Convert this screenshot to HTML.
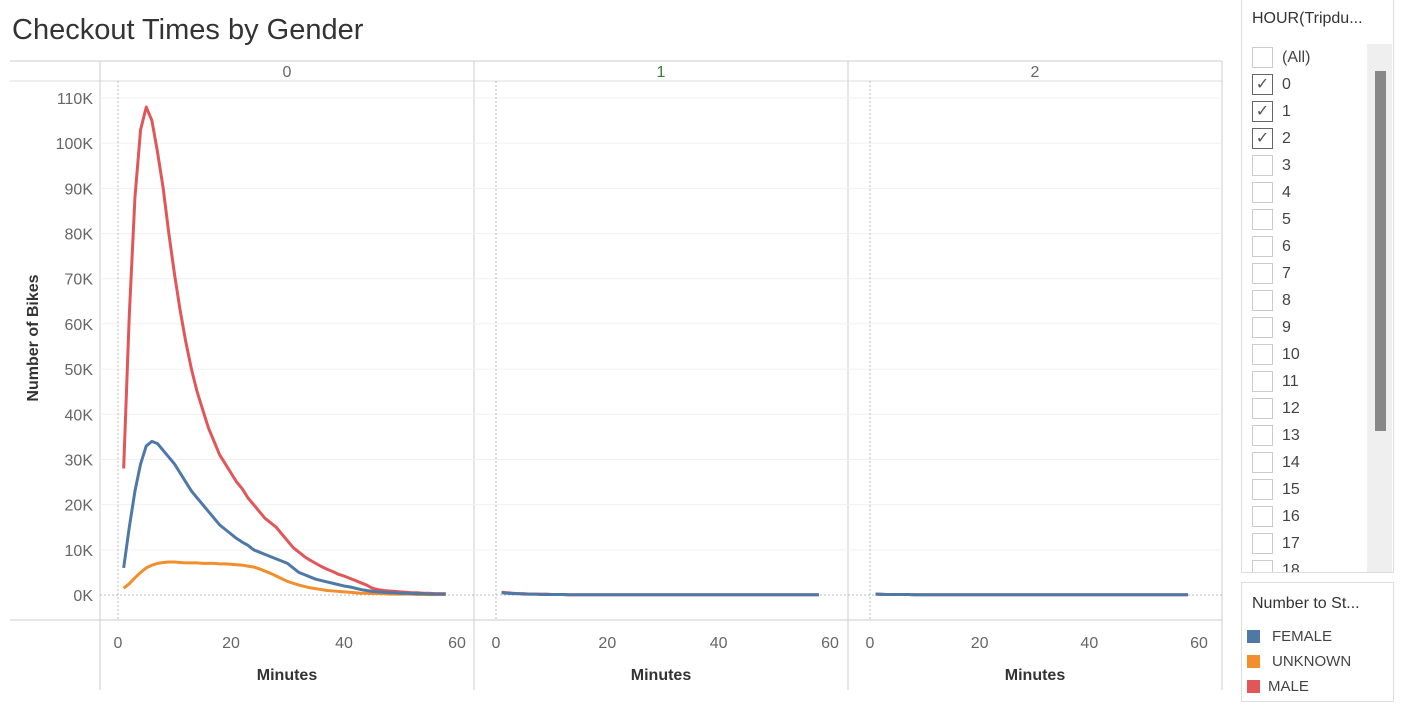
<!DOCTYPE html>
<html><head><meta charset="utf-8"><style>
body{margin:0;width:1401px;height:707px;background:#fff;font-family:"Liberation Sans",sans-serif;overflow:hidden;position:relative}
.t{position:absolute;white-space:nowrap}
</style></head><body>
<div class="t" style="left:12px;top:14px;font-size:29px;color:#333;font-weight:300">Checkout Times by Gender</div>
<svg id="c" width="1230" height="707" style="position:absolute;left:0;top:0"></svg>

<div style="position:absolute;left:1241px;top:0;width:151px;height:572px;border:1px solid #ddd;border-top:none;background:#fff">
 <div class="t" style="left:10px;top:10px;font-size:16px;color:#333">HOUR(Tripdu...</div>
 <div style="position:absolute;left:125px;top:44px;width:25px;height:528px;background:#efefef"></div>
 <div style="position:absolute;left:133px;top:71px;width:11px;height:360px;background:#888"></div>
 <div id="fl"></div>
</div>
<div style="position:absolute;left:1241px;top:582px;width:151px;height:118px;border:1px solid #ddd;background:#fff">
 <div class="t" style="left:10px;top:12px;font-size:16px;color:#333">Number to St...</div>
 <div><div style="position:absolute;left:5px;top:47px;width:13px;height:13px;background:#4e79a7"></div><div class="t" style="left:30px;top:45px;font-size:15px;color:#444">FEMALE</div></div>
 <div><div style="position:absolute;left:5px;top:72px;width:13px;height:13px;background:#f28e2b"></div><div class="t" style="left:30px;top:70px;font-size:15px;color:#444">UNKNOWN</div></div>
 <div><div style="position:absolute;left:5px;top:97px;width:13px;height:13px;background:#e15759"></div><div class="t" style="left:26px;top:95px;font-size:15px;color:#444">MALE</div></div>
</div>
<script>
const panels=["0","1","2"];
const yTicks=[0,10,20,30,40,50,60,70,80,90,100,110];
const xTicks=[0,20,40,60];
const male0=[28,62,88,103,108,105,98,90,80,71,63,56,50,45,41,37,34,31,29,27,25,23.5,21.5,20,18.5,17,16,15,13.5,12,10.5,9.5,8.5,7.7,7,6.3,5.7,5.2,4.6,4.2,3.7,3.2,2.7,2.2,1.5,1.2,1.0,0.9,0.8,0.7,0.6,0.5,0.5,0.4,0.4,0.3,0.3,0.3];
const female0=[6,15,23,29,33,34,33.5,32,30.5,29,27,25,23,21.5,20,18.5,17,15.5,14.5,13.5,12.5,11.7,11,10,9.5,9,8.5,8,7.5,7,6,5,4.5,4,3.5,3.2,2.9,2.6,2.3,2,1.8,1.5,1.2,1,0.8,0.7,0.6,0.5,0.5,0.4,0.4,0.3,0.3,0.3,0.2,0.2,0.2,0.2];
const unknown0=[1.5,2.5,3.8,5,6,6.6,7,7.2,7.3,7.3,7.2,7.1,7.1,7.1,7,7,7,6.9,6.9,6.8,6.7,6.6,6.4,6.2,5.8,5.3,4.8,4.2,3.6,3,2.6,2.2,1.9,1.6,1.4,1.2,1.0,0.9,0.8,0.7,0.6,0.5,0.4,0.4,0.3,0.3,0.3,0.2,0.2,0.2,0.2,0.2,0.1,0.1,0.1,0.1,0.1,0.1];
const male1=[0.6,0.5,0.4,0.3,0.3,0.2,0.2,0.2,0.2,0.1,0.1,0.1];
const female1=[0.5,0.4,0.3,0.3,0.2,0.2,0.2,0.1,0.1,0.1,0.1,0.1];
const male2=[0.2,0.1,0.1,0.1,0.1,0.1,0.1];
const female2=[0.2,0.2,0.1,0.1,0.1,0.1,0.1];
const series=[[unknown0,male0,female0],[male1,female1],[male2,female2]];
const colorsets=[["#f28e2b","#e15759","#4e79a7"],["#e15759","#4e79a7"],["#e15759","#4e79a7"]];
const svg=document.getElementById('c');const NS='http://www.w3.org/2000/svg';
function mk(t,a,p){const e=document.createElementNS(NS,t);for(const k in a)e.setAttribute(k,a[k]);(p||svg).appendChild(e);return e;}
const px0=[100,474,848],pw=374,x0off=[18,22,22],x60off=[357,356,351];
const yS=v=>595-v*4.518;
function xS(p,m){return px0[p]+x0off[p]+m*(x60off[p]-x0off[p])/60;}
let e;
e=mk('line',{x1:10,y1:61,x2:1222,y2:61,stroke:'#ccc'});
mk('line',{x1:10,y1:81,x2:1222,y2:81,stroke:'#ddd'});
e=mk('line',{x1:10,y1:620,x2:1222,y2:620,stroke:'#ccc'});
mk('line',{x1:100,y1:61,x2:100,y2:690,stroke:'#ccc'});
[474,848,1222].forEach(x=>mk('line',{x1:x,y1:61,x2:x,y2:690,stroke:'#ccc'}));
yTicks.forEach(v=>{
 if(v>0){e=mk('line',{x1:100,y1:yS(v),x2:1222,y2:yS(v),stroke:'#f0f0f0'});}
 e=mk('text',{x:93,y:yS(v)+6,'text-anchor':'end','font-size':16,fill:'#666'});e.textContent=v+'K';
 
});
mk('line',{x1:100,y1:595,x2:1222,y2:595,stroke:'#bbb','stroke-dasharray':'2,2'});
e=mk('text',{x:38,y:338,'text-anchor':'middle','font-size':16,fill:'#333','font-weight':'bold',transform:'rotate(-90 38 338)'});e.textContent='Number of Bikes';

panels.forEach((p,i)=>{
 e=mk('text',{x:px0[i]+pw/2,y:77,'text-anchor':'middle','font-size':16,fill:i==1?'#3a7d3a':'#666'});e.textContent=p;
 
 mk('line',{x1:xS(i,0),y1:81,x2:xS(i,0),y2:620,stroke:'#bbb','stroke-dasharray':'2,2'});
 xTicks.forEach(t=>{e=mk('text',{x:xS(i,t),y:648,'text-anchor':'middle','font-size':16,fill:'#666'});e.textContent=t;
  });
 e=mk('text',{x:px0[i]+pw/2,y:680,'text-anchor':'middle','font-size':16,fill:'#333','font-weight':'bold'});e.textContent='Minutes';
 
 series[i].forEach((s,j)=>{
  let n=58;let pts=[];
  for(let m=1;m<=n;m++){const v=m-1<s.length?s[m-1]:s[s.length-1]*0.5;pts.push(xS(i,m)+','+yS(v));}
  e=mk('polyline',{points:pts.join(' '),fill:'none',stroke:colorsets[i][j],'stroke-width':3,'stroke-linejoin':'round'});
  
 });
});
const items=["(All)","0","1","2","3","4","5","6","7","8","9","10","11","12","13","14","15","16","17","18"];
const fl=document.getElementById('fl');
items.forEach((t,k)=>{
 const y=47+k*27;
 const row=document.createElement('div');
 
 
 row.style.cssText='position:absolute;left:10px;top:'+y+'px;height:25px;width:110px;overflow:hidden';
 const chk=(k>=1&&k<=3);
 row.innerHTML='<div style="position:absolute;left:0;top:0;width:19px;height:19px;border:1px solid '+(chk?'#666':'#ccc')+';font-size:16px;line-height:19px;text-align:center;color:#555">'+(chk?'✓':'')+'</div><div class="t" style="left:30px;top:2px;font-size:16px;color:#444">'+t+'</div>';
 if(y+25>572)row.style.height=(572-y)+'px';
 fl.appendChild(row);
});
</script>
</body></html>
